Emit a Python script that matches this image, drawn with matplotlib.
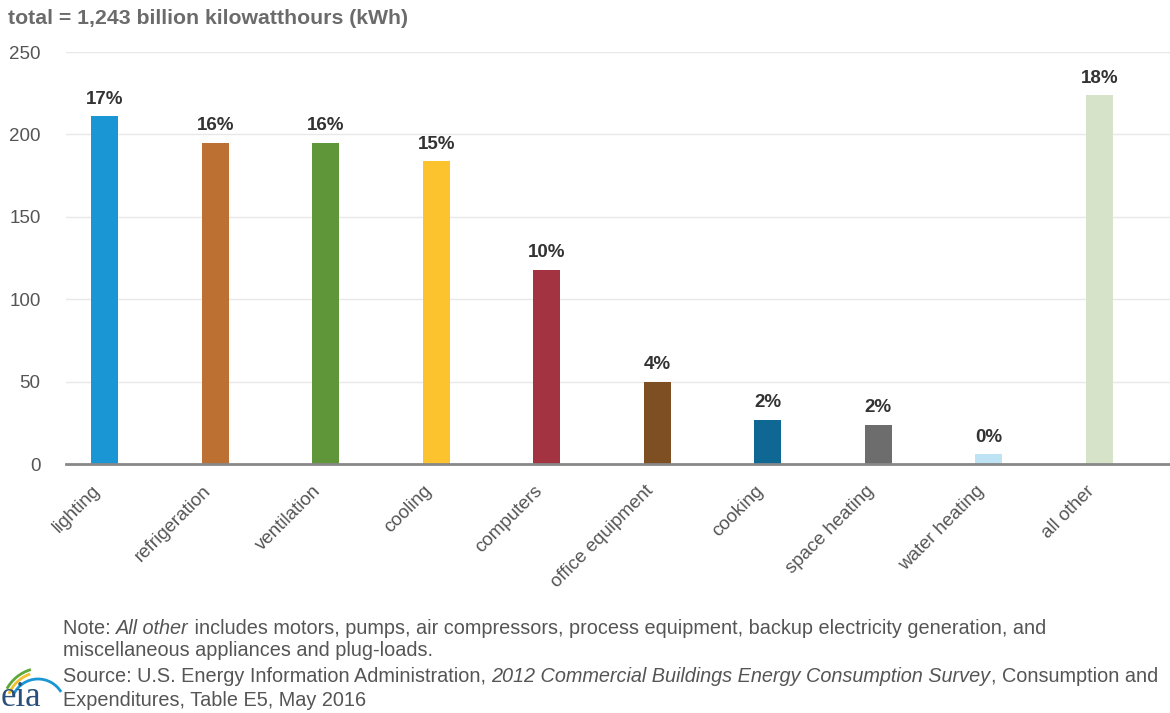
#%% Imports
import matplotlib.pyplot as plt
import matplotlib.transforms as mtransforms
import numpy as np
from matplotlib.patches import Arc

#%% Data
categories = ['lighting', 'refrigeration', 'ventilation', 'cooling', 'computers',
              'office equipment', 'cooking', 'space heating', 'water heating', 'all other']
values = [211, 195, 195, 184, 118, 50, 27, 24, 6, 224]
pct_labels = ['17%', '16%', '16%', '15%', '10%', '4%', '2%', '2%', '0%', '18%']
colors = ['#1a96d4', '#bc7133', '#5f963a', '#fdc32e', '#a33340',
          '#7e4f22', '#0f6894', '#6d6d6d', '#bde3f4', '#d6e3c8']
yticks = [0, 50, 100, 150, 200, 250]

note_lines = [
    [('Note: ', 'normal'), ('All other', 'italic'),
     (' includes motors, pumps, air compressors, process equipment, backup electricity generation, and', 'normal')],
    [('miscellaneous appliances and plug-loads.', 'normal')],
    [('Source: U.S. Energy Information Administration, ', 'normal'),
     ('2012 Commercial Buildings Energy Consumption Survey', 'italic'),
     (', Consumption and', 'normal')],
    [('Expenditures, Table E5, May 2016', 'normal')],
]
note_y = [628, 650, 676, 700]  # pixel rows of the footnote lines

#%% Plot
plt.rcParams['font.family'] = ['Liberation Sans', 'DejaVu Sans']
W, H = 1170, 713
fig = plt.figure(figsize=(W / 100, H / 100), dpi=100)
ax = fig.add_axes([0.056, 0.349, 0.944, 0.578])

x = np.arange(len(categories))
ax.bar(x, values, width=0.245, color=colors, zorder=3)
for xi, v, lab in zip(x, values, pct_labels):
    ax.text(xi, v + 5, lab, ha='center', va='bottom', fontsize=13.5,
            fontweight='bold', color='#333333')

ax.set_xlim(-0.355, 9.64)
ax.set_ylim(0, 250)
ax.set_yticks(yticks)
ax.set_yticklabels([str(t) for t in yticks], fontsize=13.5, color='#555555')
ax.set_xticks(x)
ax.set_xticklabels(categories, rotation=45, ha='right', rotation_mode='anchor',
                   fontsize=13.5, color='#555555')
ax.tick_params(axis='both', length=0)
ax.tick_params(axis='y', pad=18)
ax.tick_params(axis='x', pad=8)
# nudge the slanted labels a little left/down, like the original
shift = mtransforms.ScaledTranslation(-13 / 100, -7 / 100, fig.dpi_scale_trans)
for lab in ax.get_xticklabels():
    lab.set_transform(lab.get_transform() + shift)

ax.grid(axis='y', color='#e8e8e8', linewidth=1, zorder=0)
for s in ['top', 'right', 'left']:
    ax.spines[s].set_visible(False)
ax.spines['bottom'].set_color('#888888')
ax.spines['bottom'].set_linewidth(2)
ax.spines['bottom'].set_zorder(4)

fig.text(8 / W, 1 - 18 / H, 'total = 1,243 billion kilowatthours (kWh)', fontsize=15.3,
         fontweight='bold', color='#6b6b6b', va='center', ha='left')

# footnotes: pieces of mixed style laid end to end
renderer = fig.canvas.get_renderer()
for line, yp in zip(note_lines, note_y):
    xp = 63
    for txt, st in line:
        t = fig.text(xp / W, 1 - yp / H, txt, fontsize=14.3, color='#555555',
                     va='center', ha='left', style=st)
        xp += t.get_window_extent(renderer).width

# eia logo
fig.text(1 / W, 1 - 698 / H, 'eia', fontsize=25, family='Liberation Serif',
         color='#2a4f7a', va='center', ha='left')
for (cx, cy, r, t1, t2, c) in [(42, 708, 40, 100, 138, '#5fa83a'),
                               (42, 708, 36, 102, 145, '#f2c12e'),
                               (38, 706, 27, 45, 140, '#1a96d4')]:
    arc = Arc((cx / W, 1 - cy / H), 2 * r / W, 2 * r / H, theta1=t1, theta2=t2,
              color=c, linewidth=2, transform=fig.transFigure)
    fig.add_artist(arc)

fig.savefig('out.png', dpi=100)
